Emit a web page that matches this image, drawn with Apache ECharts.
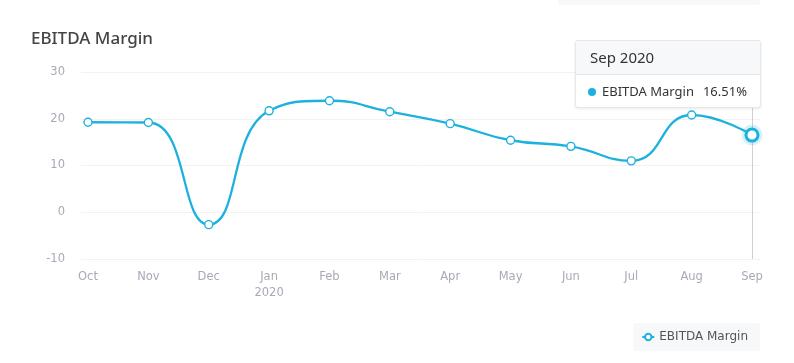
<!DOCTYPE html>
<html><head><meta charset="utf-8">
<script src="https://cdn.jsdelivr.net/npm/echarts@6/dist/echarts.min.js"></script>
<style>html,body{margin:0;padding:0;background:#fff;}#c{width:794px;height:363px;}</style>
</head><body><div id="c"></div>
<script>
const categories = ['Oct','Nov','Dec','Jan','Feb','Mar','Apr','May','Jun','Jul','Aug','Sep'];
const yearLabels = ['', '', '', '2020', '', '', '', '', '', '', '', ''];
const tooltipTitles = ['Oct 2019','Nov 2019','Dec 2019','Jan 2020','Feb 2020','Mar 2020','Apr 2020','May 2020','Jun 2020','Jul 2020','Aug 2020','Sep 2020'];
const ebitdaMargin = [19.25, 19.2, -2.65, 21.7, 23.85, 21.5, 18.95, 15.4, 14.1, 11.0, 20.8, 16.51];
const seriesName = 'EBITDA Margin';
const yTicks = [-10, 0, 10, 20, 30];
const activeIndex = 11;

const COLOR = '#1cb2dd';
const chart = echarts.init(document.getElementById('c'), null, {renderer: 'canvas'});
const lineData = ebitdaMargin.map((v, i) => i === activeIndex
  ? {value: v, symbolSize: 11, itemStyle: {borderWidth: 3}}
  : v);
const haloData = ebitdaMargin.map((v, i) => i === activeIndex ? v : '-');

chart.setOption({
  animation: false,
  title: {
    text: 'EBITDA Margin', left: 26, top: 26,
    textStyle: {fontFamily: 'Noto Sans', fontSize: 17, fontWeight: 500, color: '#444'}
  },
  graphic: [{
    type: 'rect', shape: {x: 558, y: -4, width: 202, height: 9, r: 3},
    style: {fill: '#f7f8fa'}, silent: true
  }],
  grid: [
    {left: 81, right: 34, top: 72, height: 187},
    {left: 88, right: 42, top: 72, height: 187}
  ],
  xAxis: [
    {gridIndex: 0, type: 'value', min: 0, max: 1, show: false},
    {gridIndex: 1, type: 'category', data: categories, boundaryGap: false,
     axisLine: {show: false}, axisTick: {show: false}, splitLine: {show: false},
     axisLabel: {
       margin: 10, interval: 0, color: '#a8a9b6', fontFamily: 'DejaVu Sans', fontSize: 11.5, lineHeight: 16,
       formatter: (val, idx) => yearLabels[idx] ? val + '\n' + yearLabels[idx] : val
     }
    }
  ],
  yAxis: [
    {gridIndex: 0, type: 'value', min: yTicks[0], max: yTicks[yTicks.length-1], interval: 10,
     axisLine: {show: false}, axisTick: {show: false},
     splitLine: {lineStyle: {color: '#f2f2f4', width: 1}},
     axisLabel: {margin: 16, color: '#a8a9b6', fontFamily: 'DejaVu Sans', fontSize: 11.5}},
    {gridIndex: 1, type: 'value', min: yTicks[0], max: yTicks[yTicks.length-1], show: false}
  ],
  tooltip: {
    trigger: 'axis', alwaysShowContent: true, transitionDuration: 0,
    axisPointer: {type: 'none'},
    padding: 0, borderWidth: 1, borderColor: '#e6e7ea', backgroundColor: '#fff',
    extraCssText: 'box-shadow:0 1px 3px rgba(0,0,0,0.08);border-radius:3px;overflow:hidden;',
    position: () => [575, 40],
    formatter: (params) => {
      const p = params.find(x => x.seriesName === seriesName) || params[0];
      const i = p.dataIndex;
      return '<div style="width:184px;font-family:Noto Sans, sans-serif;color:#333;">' +
        '<div style="background:#f7f8fa;border-bottom:1px solid #e6e7ea;padding:4px 14px 5px 14px;font-size:15px;height:24px;line-height:24px;">' + tooltipTitles[i] + '</div>' +
        '<div style="padding:6px 10px 6px 12px;font-size:13px;height:20px;line-height:20px;white-space:nowrap;">' +
        '<span style="display:inline-block;width:8px;height:8px;border-radius:4px;background:' + COLOR + ';margin-right:6px;vertical-align:0px;"></span>' +
        seriesName + '<span style="margin-left:9px;">' + ebitdaMargin[i].toFixed(2) + '%</span></div></div>';
    }
  },
  legend: {
    data: [seriesName], right: 34, bottom: 12,
    backgroundColor: '#f7f8fa', borderRadius: 3, padding: [8, 12, 8, 8],
    itemWidth: 12, itemHeight: 8, itemGap: 6,
    textStyle: {fontFamily: 'DejaVu Sans', fontSize: 12, color: '#555'}
  },
  series: [
    {
      name: 'halo', type: 'scatter', xAxisIndex: 1, yAxisIndex: 1,
      data: haloData, symbolSize: 21, silent: true, z: 2,
      itemStyle: {color: 'rgba(28,178,221,0.22)'}, tooltip: {show: false},
      markLine: {
        silent: true, symbol: 'none', label: {show: false}, z: 1,
        lineStyle: {color: '#cfcfd4', width: 1, type: 'solid'},
        data: [{xAxis: categories[activeIndex]}]
      }
    },
    {
      name: seriesName, type: 'line', xAxisIndex: 1, yAxisIndex: 1,
      data: lineData, smooth: 0.5, z: 10,
      symbol: 'circle', symbolSize: 8,
      lineStyle: {color: COLOR, width: 2.3},
      itemStyle: {color: '#fff', borderColor: COLOR, borderWidth: 1.4},
      emphasis: {disabled: true}
    }
  ]
});
chart.dispatchAction({type: 'showTip', seriesIndex: 1, dataIndex: activeIndex});
</script></body></html>
